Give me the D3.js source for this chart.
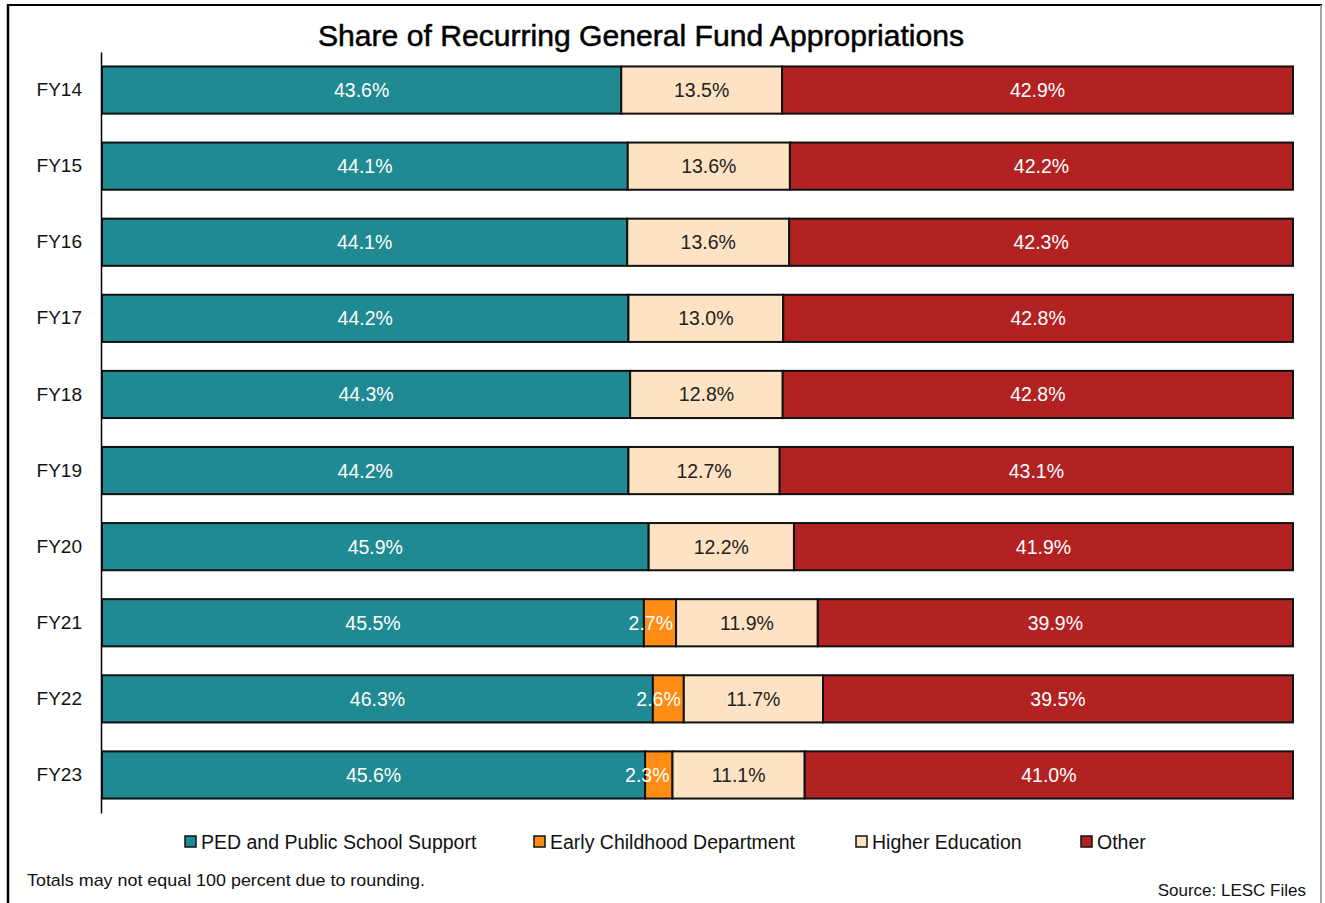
<!DOCTYPE html>
<html>
<head>
<meta charset="utf-8">
<script src="https://cdn.jsdelivr.net/npm/d3@7"></script>
<style>
  body { margin: 0; background: #fff; }
  text { font-family: "Liberation Sans", Arial, sans-serif; }
</style>
</head>
<body>
<div id="chart"></div>
<script>
var years = ["FY14", "FY15", "FY16", "FY17", "FY18", "FY19", "FY20", "FY21", "FY22", "FY23"];
var seriesNames = ["PED and Public School Support", "Early Childhood Department", "Higher Education", "Other"];
var ped = [43.6, 44.1, 44.1, 44.2, 44.3, 44.2, 45.9, 45.5, 46.3, 45.6];
var ecd = [0, 0, 0, 0, 0, 0, 0, 2.7, 2.6, 2.3];
var higher = [13.5, 13.6, 13.6, 13.0, 12.8, 12.7, 12.2, 11.9, 11.7, 11.1];
var other = [42.9, 42.2, 42.3, 42.8, 42.8, 43.1, 41.9, 39.9, 39.5, 41.0];
var colors = ["#1f8a91", "#ff8c14", "#fde3c3", "#b22222"];
var labelColors = ["#fff", "#fff", "#222", "#fff"];

(function() {
  var width = 1325, height = 903;
  var svg = d3.select("#chart").append("svg")
    .attr("width", width)
    .attr("height", height);

  // frame
  svg.append("line").attr("x1", 8).attr("x2", 8).attr("y1", 4).attr("y2", height)
    .attr("stroke", "#000").attr("stroke-width", 2.5);
  svg.append("line").attr("x1", 7).attr("x2", 1322).attr("y1", 5).attr("y2", 5)
    .attr("stroke", "#000").attr("stroke-width", 2);
  svg.append("line").attr("x1", 1321).attr("x2", 1321).attr("y1", 5).attr("y2", height)
    .attr("stroke", "#888").attr("stroke-width", 1.5);

  svg.append("text")
    .attr("x", 641).attr("y", 46)
    .attr("text-anchor", "middle")
    .attr("textLength", 646)
    .attr("lengthAdjust", "spacingAndGlyphs")
    .style("font-size", "29px")
    .style("fill", "#000")
    .style("stroke", "#000")
    .style("stroke-width", 0.5)
    .text("Share of Recurring General Fund Appropriations");

  var rows = years.map(function(y, i) {
    return { year: y, vals: [ped[i], ecd[i], higher[i], other[i]] };
  });
  rows.forEach(function(r) {
    var total = d3.sum(r.vals), acc = 0;
    r.segs = r.vals.map(function(v, k) {
      var s = { key: k, value: v, x0: acc / total, x1: (acc + v) / total, year: r.year };
      acc += v;
      return s;
    });
  });

  var x = d3.scaleLinear().domain([0, 1]).range([102, 1293]);
  var y = d3.scaleBand().domain(years).range([52, 813]).paddingInner(0.38).paddingOuter(0.19);

  var g = svg.append("g");
  var bars = g.selectAll("g.row")
    .data(rows)
    .enter()
    .append("g")
    .attr("class", "row");

  bars.selectAll("rect")
    .data(function(d) { return d.segs.filter(function(s) { return s.value > 0; }); })
    .enter()
    .append("rect")
    .attr("x", function(d) { return x(d.x0); })
    .attr("width", function(d) { return x(d.x1) - x(d.x0); })
    .attr("y", function(d) { return y(d.year); })
    .attr("height", y.bandwidth())
    .attr("fill", function(d) { return colors[d.key]; })
    .attr("stroke", "#111")
    .attr("stroke-width", 2);

  bars.selectAll("text")
    .data(function(d) { return d.segs.filter(function(s) { return s.value > 0; }); })
    .enter()
    .append("text")
    .attr("x", function(d) {
      if (d.key === 1) return x(d.x1) - 3; // small segment: label spills left
      return (x(d.x0) + x(d.x1)) / 2;
    })
    .attr("y", function(d) { return y(d.year) + y.bandwidth() / 2 + 7; })
    .attr("text-anchor", function(d) { return d.key === 1 ? "end" : "middle"; })
    .style("font-size", "19.5px")
    .style("fill", function(d) { return labelColors[d.key]; })
    .text(function(d) { return d.value.toFixed(1) + "%"; });

  // y axis
  var yAxis = svg.append("g")
    .attr("transform", "translate(101,0)")
    .call(d3.axisLeft(y).tickSize(0).tickPadding(19));
  yAxis.select(".domain").attr("stroke", "#000").attr("stroke-width", 1.5);
  yAxis.selectAll("text")
    .style("font-size", "19px")
    .style("font-family", "'Liberation Sans', Arial, sans-serif")
    .attr("fill", "#111");

  // legend
  var legendX = [185, 534, 856, 1081];
  var legend = svg.selectAll("g.legend")
    .data(seriesNames)
    .enter()
    .append("g")
    .attr("class", "legend")
    .attr("transform", function(d, i) { return "translate(" + legendX[i] + ",836)"; });
  legend.append("rect")
    .attr("width", 11).attr("height", 11)
    .attr("fill", function(d, i) { return colors[i]; })
    .attr("stroke", "#111").attr("stroke-width", 1.5);
  legend.append("text")
    .attr("x", 16).attr("y", 13)
    .style("font-size", "19.5px")
    .style("fill", "#111")
    .text(function(d) { return d; });

  svg.append("text")
    .attr("x", 27).attr("y", 886)
    .attr("textLength", 398)
    .attr("lengthAdjust", "spacingAndGlyphs")
    .style("font-size", "17px")
    .style("fill", "#111")
    .text("Totals may not equal 100 percent due to rounding.");
  svg.append("text")
    .attr("x", 1306).attr("y", 896)
    .attr("text-anchor", "end")
    .style("font-size", "17px")
    .style("fill", "#111")
    .text("Source: LESC Files");
})();
</script>
</body>
</html>
